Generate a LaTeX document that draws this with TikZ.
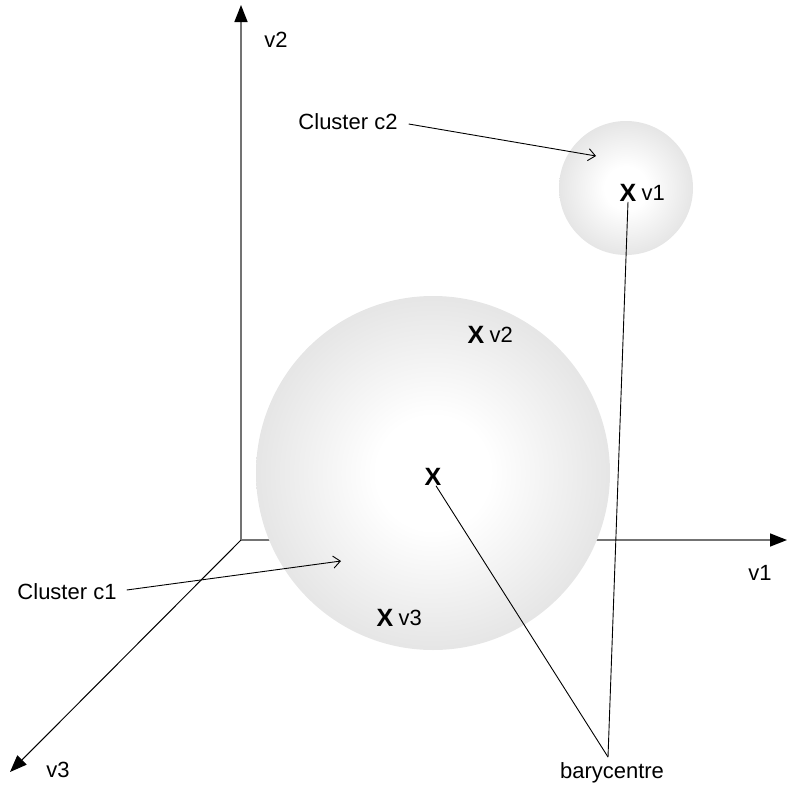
\documentclass[tikz,border=0pt]{standalone}
\usepackage{fontspec}
\setmainfont{Liberation Sans}
\usetikzlibrary{arrows.meta,positioning}

\pgfdeclareradialshading{sphere}{\pgfpoint{0bp}{0bp}}{%
  color(0bp)=(white); color(8bp)=(white); color(25bp)=(black!10);
  color(50bp)=(black!38); color(100bp)=(black!38)}

\tikzset{
  lbl/.style={font=\fontsize{22}{26}\selectfont, inner sep=0pt},
  xmk/.style={font=\fontsize{25}{28}\selectfont\bfseries, inner sep=0pt},
  axis/.style={line width=1.5pt, black!55, -{Triangle[length=17pt,width=13pt,black]}},
  ptr/.style={line width=0.9pt, -{Straight Barb[length=7pt,width=12pt]}},
}

\begin{document}
\begin{tikzpicture}[x=1pt,y=-1pt]
  \useasboundingbox (0,0) rectangle (787,787);

  % axes
  \coordinate (O) at (241,540);
  \coordinate (v1end) at (787,540);
  \coordinate (v2end) at (241,5);
  \coordinate (v3end) at (10,772);
  \draw[axis] (O) -- (v1end);
  \draw[axis] (O) -- (v2end);
  \draw[axis, black, line width=1pt] (O) -- (v3end);
  \node[lbl] (v2lbl) at (276,40) {v2};
  \node[lbl] (v1lbl) at (760,573) {v1};
  \node[lbl] (v3lbl) at (58,770) {v3};

  % clusters
  \shade[shading=sphere] (433,473) circle (177);
  \shade[shading=sphere] (626,188) circle (67);

  % points
  \node[xmk] (g) at (433,477) {X};
  \node[xmk] (x1) at (628,193) {X};
  \node[lbl, right=5pt of x1] (x1lbl) {v1};
  \node[xmk] (x2) at (476,335) {X};
  \node[lbl, right=5pt of x2] (x2lbl) {v2};
  \node[xmk] (x3) at (385,618) {X};
  \node[lbl, right=5pt of x3] (x3lbl) {v3};

  % labels and pointers
  \node[lbl] (c2) at (348,122) {Cluster c2};
  \coordinate (c2tip) at (596,156);
  \draw[ptr] ([xshift=11pt,yshift=-2pt]c2.east) -- (c2tip);
  \node[lbl] (c1) at (67,592) {Cluster c1};
  \coordinate (c1tip) at (341,561);
  \draw[ptr] ([xshift=10pt,yshift=2pt]c1.east) -- (c1tip);

  \node[lbl] (bary) at (612,773) {barycentre};
  \coordinate (bt) at (608,757);
  \draw[line width=0.9pt] (bt) -- ([xshift=3pt]g.south);
  \draw[line width=0.9pt] (bt) -- (x1.south);
\end{tikzpicture}
\end{document}
